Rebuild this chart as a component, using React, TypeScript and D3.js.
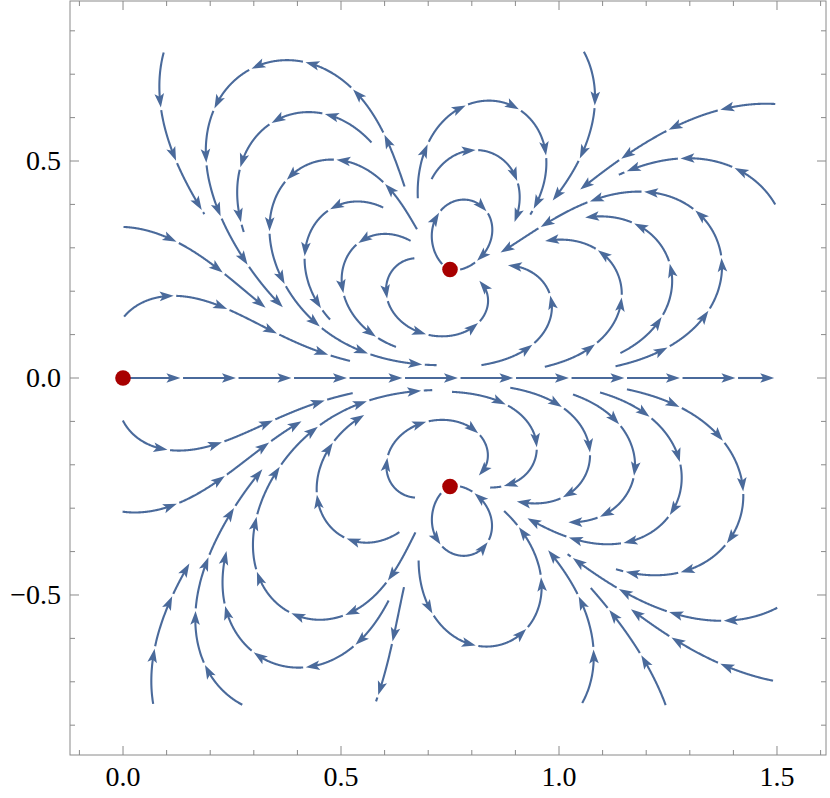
import React, { useMemo } from "react";
import * as d3 from "d3";

const W = 830;
const H = 798;
const frameBox = { left: 70, right: 826, top: 1, bottom: 755 };
const xDomain = [-0.1216, 1.6124];
const yDomain = [-0.8687, 0.8687];

// zeros of the complex field f(z) = z (z-p)^2 (z-conj p)^2 (order = multiplicity)
const fieldZeros = [
  { x: 0, y: 0, order: 1 },
  { x: 0.75, y: 0.25, order: 2 },
  { x: 0.75, y: -0.25, order: 2 },
];
const markerPoints = [
  [0, 0],
  [0.75, 0.25],
  [0.75, -0.25],
];

const xMajor = [0, 0.5, 1.0, 1.5];
const xLabels = ["0.0", "0.5", "1.0", "1.5"];
const xMinor = [-0.1, 0.1, 0.2, 0.3, 0.4, 0.6, 0.7, 0.8, 0.9, 1.1, 1.2, 1.3, 1.4, 1.6];
const yMajor = [-0.5, 0, 0.5];
const yLabels = ["\u22120.5", "0.0", "0.5"];
const yMinor = [-0.8, -0.7, -0.6, -0.4, -0.3, -0.2, -0.1, 0.1, 0.2, 0.3, 0.4, 0.6, 0.7, 0.8];

// streamlines: [start, seed on the line, end]
const streamsUpper = [
  [[0.0, 0.0], [0.5, 0.0], [1.495, 0.0]],
  [[0.0007, 0.1413], [0.2264, 0.1643], [0.5206, 0.0376]],
  [[0.0007, 0.3394], [0.2264, 0.2449], [0.328, 0.159]],
  [[0.1002, 0.7482], [0.1193, 0.5062], [0.1842, 0.3756]],
  [[0.6429, 0.4408], [0.4128, 0.7288], [0.3677, 0.1567]],
  [[0.5704, 0.5408], [0.3601, 0.5984], [0.2752, 0.3353]],
  [[0.6736, 0.341], [0.4213, 0.4908], [0.7195, 0.0276]],
  [[0.597, 0.391], [0.4174, 0.291], [0.4748, 0.1336]],
  [[0.6583, 0.3141], [0.5016, 0.2219], [0.6278, 0.0721]],
  [[0.6697, 0.2758], [0.6124, 0.1643], [0.8149, 0.2219]],
  [[0.731, 0.2604], [0.7569, 0.4062], [0.7729, 0.2528]],
  [[0.7041, 0.4601], [0.8073, 0.5253], [0.8968, 0.3594]],
  [[0.6736, 0.4141], [0.8647, 0.6366], [0.9335, 0.3756]],
  [[1.0528, 0.7488], [1.0826, 0.6406], [0.9833, 0.4101]],
  [[1.4954, 0.6214], [1.2507, 0.5714], [1.0482, 0.4332]],
  [[1.4954, 0.3986], [1.2851, 0.5062], [1.136, 0.4717]],
  [[0.8227, 0.0276], [0.9833, 0.1728], [0.88, 0.2604]],
  [[0.9679, 0.0224], [1.1438, 0.1873], [0.9679, 0.318]],
  [[1.1399, 0.0569], [1.2585, 0.2412], [1.0596, 0.3756]],
  [[1.1284, 0.026], [1.3732, 0.2719], [0.8647, 0.291]],
];

const streamsLower = [
  [[0.0007, -0.0968], [0.2071, -0.1544], [0.5275, -0.0339]],
  [[0.0007, -0.2979], [0.2264, -0.2311], [0.4106, -0.0991]],
  [[0.6697, -0.3541], [0.406, -0.55], [0.711, -0.0283]],
  [[0.6353, -0.3541], [0.4479, -0.2887], [0.555, -0.0853]],
  [[0.6085, -0.5115], [0.3142, -0.6422], [0.2378, -0.3924]],
  [[0.2759, -0.7495], [0.169, -0.5115], [0.3218, -0.212]],
  [[0.0773, -0.7495], [0.081, -0.5883], [0.1537, -0.427]],
  [[0.6429, -0.4809], [0.6239, -0.5806], [0.5933, -0.7495]],
  [[0.6697, -0.2772], [0.6124, -0.1659], [0.8149, -0.2235]],
  [[0.731, -0.2657], [0.7654, -0.4078], [0.7729, -0.2518]],
  [[0.6773, -0.4194], [0.8034, -0.6152], [0.8722, -0.3081]],
  [[0.7539, -0.0316], [0.9489, -0.1659], [0.8417, -0.2541]],
  [[0.8876, -0.0237], [1.0711, -0.1735], [0.903, -0.2887]],
  [[1.0328, -0.0353], [1.1743, -0.2051], [1.0213, -0.3387]],
  [[1.094, -0.0316], [1.2814, -0.2274], [0.9259, -0.3256]],
  [[1.1553, -0.0276], [1.4227, -0.2735], [1.1284, -0.4463]],
  [[1.4915, -0.5115], [1.2622, -0.5422], [1.0177, -0.4078]],
  [[1.4915, -0.6919], [1.2736, -0.6076], [1.1628, -0.5346]],
  [[1.2546, -0.7495], [1.1858, -0.6343], [1.0711, -0.4846]],
  [[1.0521, -0.7495], [1.0787, -0.6191], [0.9679, -0.3924]],
];

const LINE_COLOR = "#4a6a9b";
const DOT_COLOR = "#a80000";

function field(x: number, y: number): [number, number] {
  let re = 1,
    im = 0;
  for (const z of fieldZeros) {
    const dx = x - z.x,
      dy = y - z.y;
    for (let k = 0; k < z.order; k++) {
      const nr = re * dx - im * dy;
      const ni = re * dy + im * dx;
      re = nr;
      im = ni;
    }
  }
  return [re, im];
}

function dir(x: number, y: number, s: number): [number, number] {
  const [u, v] = field(x, y);
  const n = Math.hypot(u, v) || 1e-12;
  return [(s * u) / n, (s * v) / n];
}

function trace(p0: number[], target: number[], s: number) {
  const h = 0.0012;
  let x = p0[0],
    y = p0[1];
  const pts: number[][] = [[x, y]];
  let best = Math.hypot(x - target[0], y - target[1]);
  let bestI = 0;
  for (let i = 0; i < 6000; i++) {
    const k1 = dir(x, y, s);
    const k2 = dir(x + (h / 2) * k1[0], y + (h / 2) * k1[1], s);
    const k3 = dir(x + (h / 2) * k2[0], y + (h / 2) * k2[1], s);
    const k4 = dir(x + h * k3[0], y + h * k3[1], s);
    x += (h / 6) * (k1[0] + 2 * k2[0] + 2 * k3[0] + k4[0]);
    y += (h / 6) * (k1[1] + 2 * k2[1] + 2 * k3[1] + k4[1]);
    if (x < -0.02 || x > 1.52 || y < -0.77 || y > 0.77) break;
    if (fieldZeros.some((z) => Math.hypot(x - z.x, y - z.y) < 0.004)) break;
    pts.push([x, y]);
    const d = Math.hypot(x - target[0], y - target[1]);
    if (d < best) {
      best = d;
      bestI = pts.length - 1;
    }
    if (best < 0.002) break;
    if (best < 0.06 && d > best + 0.12) break;
  }
  return pts.slice(0, bestI + 1);
}

function buildLine(spec: number[][]) {
  const [s, m, e] = spec;
  const back = trace(m, s, -1);
  const fwd = trace(m, e, 1);
  return back.reverse().concat(fwd.slice(1));
}

type Seg = { d: string; head: string | null };

function segmentize(pts: number[][]): Seg[] {
  const L = 55.5,
    gap = 2.6,
    headLen = 14,
    headHalf = 4.8,
    minLast = 30;
  const cum = [0];
  for (let i = 1; i < pts.length; i++) {
    cum.push(cum[i - 1] + Math.hypot(pts[i][0] - pts[i - 1][0], pts[i][1] - pts[i - 1][1]));
  }
  const T = cum[cum.length - 1];
  const at = (t: number) => {
    if (t <= 0) return pts[0];
    if (t >= T) return pts[pts.length - 1];
    let lo = 0,
      hi = cum.length - 1;
    while (hi - lo > 1) {
      const mid = (lo + hi) >> 1;
      if (cum[mid] <= t) lo = mid;
      else hi = mid;
    }
    const f = (t - cum[lo]) / (cum[hi] - cum[lo] || 1);
    return [pts[lo][0] + f * (pts[hi][0] - pts[lo][0]), pts[lo][1] + f * (pts[hi][1] - pts[lo][1])];
  };
  const sub = (a: number, b: number) => {
    const out = [at(a)];
    for (let i = 0; i < cum.length; i++) if (cum[i] > a && cum[i] < b) out.push(pts[i]);
    out.push(at(b));
    return out;
  };
  const head = (t: number) => {
    const p = at(t);
    const q = at(Math.max(0, t - 7));
    const ang = Math.atan2(p[1] - q[1], p[0] - q[0]);
    const c = Math.cos(ang),
      sn = Math.sin(ang);
    const shape = [
      [0, 0],
      [-headLen, -headHalf],
      [-headLen * 0.78, 0],
      [-headLen, headHalf],
    ];
    return (
      "M" +
      shape
        .map(([u, v]) => `${(p[0] + u * c - v * sn).toFixed(2)},${(p[1] + u * sn + v * c).toFixed(2)}`)
        .join("L") +
      "Z"
    );
  };
  const line = d3.line();
  const segs: Seg[] = [];
  let a = 0;
  let tip = L;
  while (tip <= T) {
    segs.push({ d: line(sub(a, tip - headLen * 0.6) as any) || "", head: head(tip) });
    a = tip + gap;
    tip += L;
  }
  if (T - a > 1) {
    const remaining = T - (a - gap);
    if (remaining >= minLast) {
      segs.push({ d: line(sub(a, T - headLen * 0.6) as any) || "", head: head(T) });
    } else {
      segs.push({ d: line(sub(a, T) as any) || "", head: null });
    }
  }
  return segs;
}

export default function App() {
  const xs = d3.scaleLinear().domain(xDomain).range([frameBox.left, frameBox.right]);
  const ys = d3.scaleLinear().domain(yDomain).range([frameBox.bottom, frameBox.top]);

  const segments = useMemo(() => {
    const all: Seg[] = [];
    for (const spec of [...streamsUpper, ...streamsLower]) {
      const pts = buildLine(spec).map(([x, y]) => [xs(x), ys(y)]);
      all.push(...segmentize(pts));
    }
    return all;
  }, []);

  const frameColor = "#8a8a8a";
  const majLen = 9;
  const minLen = 5;
  const font = "'Liberation Serif', 'Times New Roman', serif";

  return (
    <div style={{ position: "absolute", left: 0, top: 0 }}>
      <svg width={W} height={H} viewBox={`0 0 ${W} ${H}`} style={{ display: "block", background: "#fff" }}>
        <rect
          x={frameBox.left}
          y={frameBox.top}
          width={frameBox.right - frameBox.left}
          height={frameBox.bottom - frameBox.top}
          fill="none"
          stroke={frameColor}
          strokeWidth={1}
        />
        {xMajor.map((v) => (
          <g key={"xM" + v}>
            <line x1={xs(v)} x2={xs(v)} y1={frameBox.bottom} y2={frameBox.bottom - majLen} stroke={frameColor} />
            <line x1={xs(v)} x2={xs(v)} y1={frameBox.top} y2={frameBox.top + majLen} stroke={frameColor} />
          </g>
        ))}
        {xMinor.map((v) => (
          <g key={"xm" + v}>
            <line x1={xs(v)} x2={xs(v)} y1={frameBox.bottom} y2={frameBox.bottom - minLen} stroke={frameColor} />
            <line x1={xs(v)} x2={xs(v)} y1={frameBox.top} y2={frameBox.top + minLen} stroke={frameColor} />
          </g>
        ))}
        {yMajor.map((v) => (
          <g key={"yM" + v}>
            <line x1={frameBox.left} x2={frameBox.left + majLen} y1={ys(v)} y2={ys(v)} stroke={frameColor} />
            <line x1={frameBox.right} x2={frameBox.right - majLen} y1={ys(v)} y2={ys(v)} stroke={frameColor} />
          </g>
        ))}
        {yMinor.map((v) => (
          <g key={"ym" + v}>
            <line x1={frameBox.left} x2={frameBox.left + minLen} y1={ys(v)} y2={ys(v)} stroke={frameColor} />
            <line x1={frameBox.right} x2={frameBox.right - minLen} y1={ys(v)} y2={ys(v)} stroke={frameColor} />
          </g>
        ))}
        {xMajor.map((v, i) => (
          <text key={"xl" + v} x={xs(v)} y={786} textAnchor="middle" fontFamily={font} fontSize={28} fill="#000">
            {xLabels[i]}
          </text>
        ))}
        {yMajor.map((v, i) => (
          <text key={"yl" + v} x={61} y={ys(v) + 9} textAnchor="end" fontFamily={font} fontSize={28} fill="#000">
            {yLabels[i]}
          </text>
        ))}
        <g>
          {segments.map((s, i) => (
            <g key={i}>
              <path d={s.d} fill="none" stroke={LINE_COLOR} strokeWidth={2.1} strokeLinecap="butt" />
              {s.head && <path d={s.head} fill={LINE_COLOR} stroke="none" />}
            </g>
          ))}
        </g>
        {markerPoints.map(([x, y], i) => (
          <circle key={i} cx={xs(x)} cy={ys(y)} r={7.8} fill={DOT_COLOR} />
        ))}
      </svg>
    </div>
  );
}
